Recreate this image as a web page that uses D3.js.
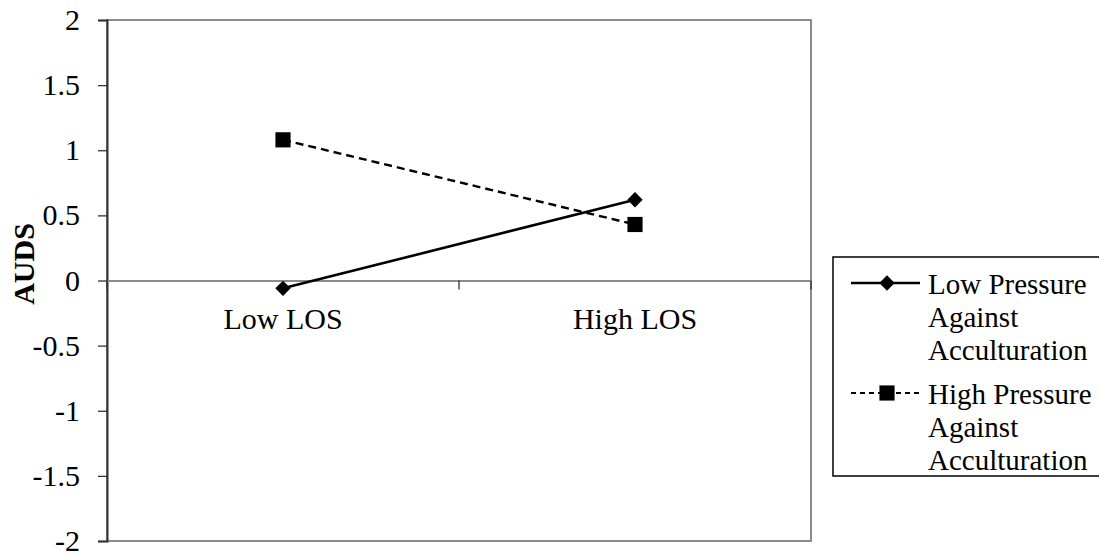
<!DOCTYPE html>
<html><head><meta charset="utf-8">
<script src="https://cdn.jsdelivr.net/npm/d3@7"></script>
<style>html,body{margin:0;padding:0;background:#fff;}svg{display:block;}
svg text{font-family:"Liberation Serif","Times New Roman",serif;}
</style>
</head><body>
<svg id="c" width="1099" height="558"></svg>
<script>
const categories = ["Low LOS", "High LOS"];
const lowPressure = [-0.06, 0.62];
const highPressure = [1.08, 0.43];
const seriesNames = ["Low Pressure Against Acculturation", "High Pressure Against Acculturation"];
const legendLines = [["Low Pressure", "Against", "Acculturation"], ["High Pressure", "Against", "Acculturation"]];
const yTicks = [-2, -1.5, -1, -0.5, 0, 0.5, 1, 1.5, 2];
const yLabel = "AUDS";

const font = "Liberation Serif, Times New Roman, serif";
const svg = d3.select("#c");
const L = 107, R = 811, T = 20, B = 541;
const x = d3.scaleBand().domain(categories).range([L, R]).padding(0);
const y = d3.scaleLinear().domain([-2, 2]).range([B, T]);
const cx = c => x(c) + x.bandwidth() / 2;

// plot border (gray)
svg.append("rect").attr("x", L).attr("y", T).attr("width", R - L).attr("height", B - T)
  .attr("fill", "none").attr("stroke", "#8c8c8c").attr("stroke-width", 2);

// y axis
const ya = svg.append("g").attr("transform", `translate(${L},0)`)
  .call(d3.axisLeft(y).tickValues(yTicks).tickSize(9).tickPadding(18).tickFormat(d => String(d)));
ya.attr("font-family", font);
ya.select(".domain").attr("stroke", "#333").attr("stroke-width", 2);
ya.selectAll(".tick line").attr("stroke", "#333").attr("stroke-width", 1.3);
ya.selectAll(".tick text").attr("font-size", 30).attr("fill", "#000");

// x axis at zero
const xa = svg.append("g").attr("transform", `translate(0,${y(0)})`)
  .call(d3.axisBottom(x).tickSize(0).tickPadding(27));
xa.attr("font-family", font);
xa.select(".domain").attr("stroke", "#8c8c8c").attr("stroke-width", 2);
xa.selectAll(".tick text").attr("font-size", 30).attr("fill", "#000").attr("dy", "0.71em");
// category boundary ticks
const bounds = [L, x(categories[1]), R];
svg.append("g").selectAll("line").data(bounds).join("line")
  .attr("x1", d => d).attr("x2", d => d).attr("y1", y(0)).attr("y2", y(0) + 9)
  .attr("stroke", "#333").attr("stroke-width", 1.3);

// y label
svg.append("text").attr("transform", `translate(34,264) rotate(-90)`)
  .attr("text-anchor", "middle").attr("font-size", 30)
  .attr("font-weight", "bold").text(yLabel);

const line = d3.line().x((d, i) => cx(categories[i])).y(d => y(d));
const series = [
  {name: seriesNames[0], vals: lowPressure, dash: null, sym: d3.symbolDiamond2, size: 150},
  {name: seriesNames[1], vals: highPressure, dash: "8,5", sym: d3.symbolSquare, size: 230}
];
series.forEach(s => {
  svg.append("path").attr("d", line(s.vals)).attr("fill", "none").attr("stroke", "#000")
    .attr("stroke-width", s.dash ? 2.4 : 2.6).attr("stroke-dasharray", s.dash);
  svg.append("g").selectAll("path").data(s.vals).join("path")
    .attr("transform", (d, i) => `translate(${cx(categories[i])},${y(d)})`)
    .attr("d", d3.symbol().type(s.sym).size(s.size)).attr("fill", "#000");
});

// legend
const lg = svg.append("g");
lg.append("rect").attr("x", 833).attr("y", 257).attr("width", 280).attr("height", 219)
  .attr("fill", "#fff").attr("stroke", "#000").attr("stroke-width", 1.5);
const entryY = [283, 393];
series.forEach((s, k) => {
  lg.append("line").attr("x1", 851).attr("x2", 920).attr("y1", entryY[k]).attr("y2", entryY[k])
    .attr("stroke", "#000").attr("stroke-width", s.dash ? 2.2 : 2.6).attr("stroke-dasharray", s.dash ? "5,4" : null);
  lg.append("path").attr("transform", `translate(887,${entryY[k]})`)
    .attr("d", d3.symbol().type(s.sym).size(s.size)).attr("fill", "#000");
  const t = lg.append("text").attr("font-size", 29).attr("fill", "#000");
  legendLines[k].forEach((ln, j) => {
    t.append("tspan").attr("x", 928).attr("y", entryY[k] + 11 + j * 33).text(ln);
  });
});
</script>
</body></html>
